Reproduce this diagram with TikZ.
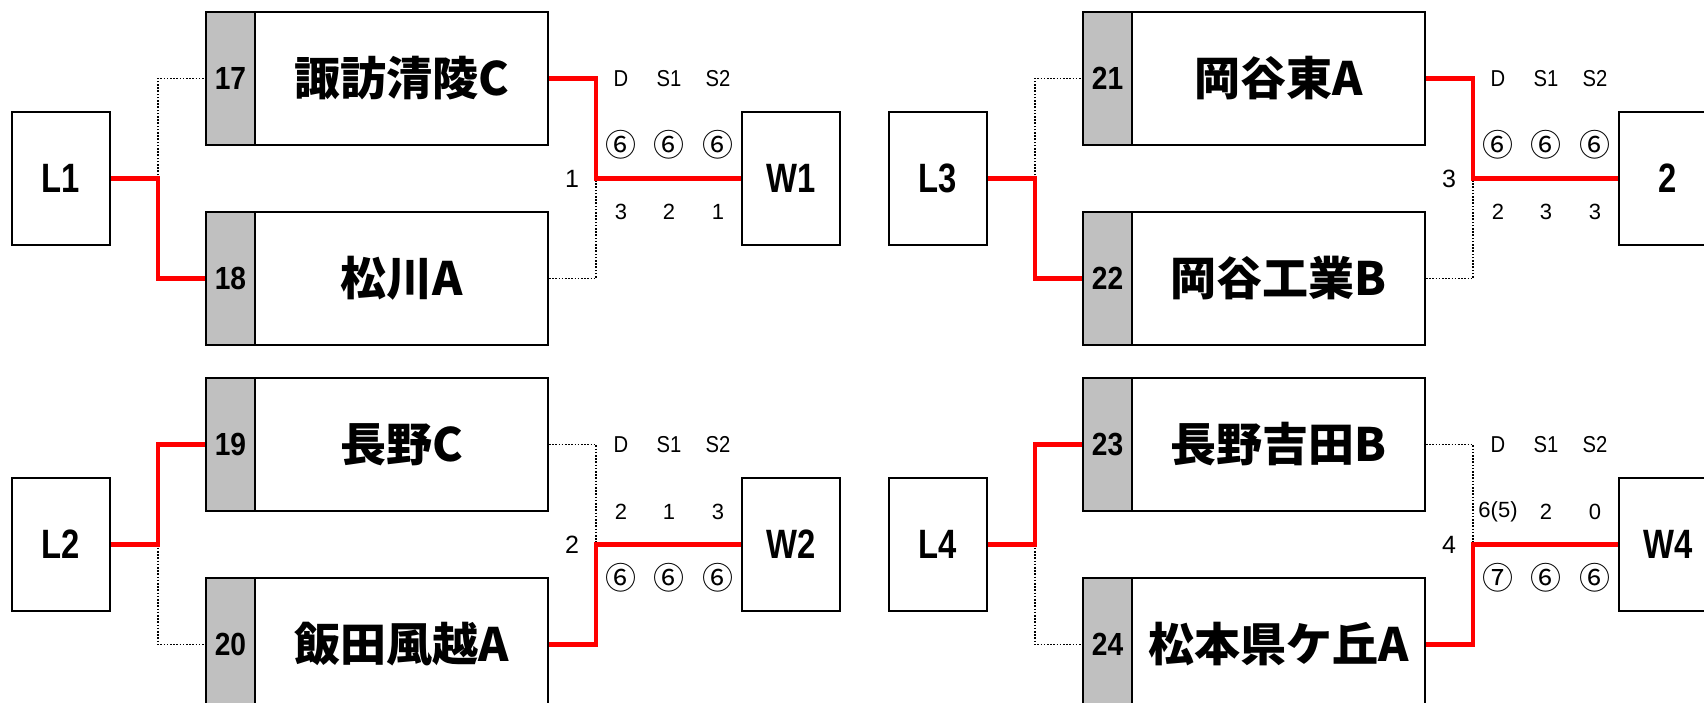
\documentclass[tikz,border=0pt]{standalone}
\usepackage{fontspec}
\setmainfont{Liberation Sans}
\newfontfamily\jp{Noto Sans CJK JP}
\newfontfamily\narrowf[FakeStretch=0.8]{Liberation Sans}
\newfontfamily\numf[FakeStretch=0.88]{Liberation Sans}
\definecolor{boxgray}{RGB}{192,192,192}
\definecolor{wred}{RGB}{255,0,0}
\tikzset{
  lbox/.style={draw=black, line width=1.8pt, fill=white, minimum width=98pt, minimum height=133pt, inner sep=0pt, font=\narrowf\bfseries\fontsize{41}{41}\selectfont},
  seedbox/.style={draw=black, line width=1.8pt, fill=boxgray, minimum width=49pt, minimum height=133pt, inner sep=0pt, font=\numf\bfseries\fontsize{32}{32}\selectfont},
  teambox/.style={draw=black, line width=1.8pt, fill=white, minimum width=293pt, minimum height=133pt, inner sep=0pt, font=\jp\bfseries\fontsize{46}{46}\selectfont},
  win/.style={draw=wred, line width=4.5pt},
  lose/.style={draw=black, line width=1.6pt, dash pattern=on 1.6pt off 1.6pt},
  hdr/.style={inner sep=0pt, font=\numf\fontsize{23}{23}\selectfont},
  sc/.style={inner sep=0pt, font=\fontsize{22}{22}\selectfont},
  circ/.style={inner sep=0pt, font=\jp\fontsize{31}{31}\selectfont},
  mno/.style={inner sep=0pt, font=\fontsize{25}{25}\selectfont}
}
\begin{document}
\begin{tikzpicture}[x=1pt,y=-1pt]
\useasboundingbox (0,0) rectangle (1704,703);
\fill[white] (0,0) rectangle (1704,703);

% ---------- group 1 (top left) ----------
\begin{scope}
\node[lbox] (L1) at (61,178.5) {L1};
\node[seedbox] (s17) at (230.5,78.5) {17};
\node[teambox] (t17) at (401.5,78.5) {諏訪清陵C};
\node[seedbox] (s18) at (230.5,278.5) {18};
\node[teambox] (t18) at (401.5,278.5) {松川A};
\node[lbox] (W1) at (791,178.5) {W1};
\coordinate (jl1) at (158,178.5);
\coordinate (jr1) at (596,178.5);
\draw[lose] (jl1) |- (s17.west);
\draw[lose] (t18.east) -| (jr1);
\draw[win] (L1.east) -- (jl1) |- (s18.west);
\draw[win] (t17.east) -| (jr1) -- (W1.west);
\node[hdr] (h1d) at (621,78.5) {D};
\node[hdr] (h1s1) at (669,78.5) {S1};
\node[hdr] (h1s2) at (718,78.5) {S2};
\node[circ] (a1d) at (621,145) {⑥};
\node[circ] (a1s1) at (669,145) {⑥};
\node[circ] (a1s2) at (718,145) {⑥};
\node[sc] (b1d) at (621,212) {3};
\node[sc] (b1s1) at (669,212) {2};
\node[sc] (b1s2) at (718,212) {1};
\node[mno] (m1) at (572,178.5) {1};
\end{scope}

% ---------- group 2 (bottom left) ----------
\begin{scope}[shift={(0,366)}]
\node[lbox] (L2) at (61,178.5) {L2};
\node[seedbox] (s19) at (230.5,78.5) {19};
\node[teambox] (t19) at (401.5,78.5) {長野C};
\node[seedbox] (s20) at (230.5,278.5) {20};
\node[teambox] (t20) at (401.5,278.5) {飯田風越A};
\node[lbox] (W2) at (791,178.5) {W2};
\coordinate (jl2) at (158,178.5);
\coordinate (jr2) at (596,178.5);
\draw[lose] (jl2) |- (s20.west);
\draw[lose] (t19.east) -| (jr2);
\draw[win] (L2.east) -- (jl2) |- (s19.west);
\draw[win] (t20.east) -| (jr2) -- (W2.west);
\node[hdr] (h2d) at (621,78.5) {D};
\node[hdr] (h2s1) at (669,78.5) {S1};
\node[hdr] (h2s2) at (718,78.5) {S2};
\node[sc] (a2d) at (621,146) {2};
\node[sc] (a2s1) at (669,146) {1};
\node[sc] (a2s2) at (718,146) {3};
\node[circ] (b2d) at (621,212) {⑥};
\node[circ] (b2s1) at (669,212) {⑥};
\node[circ] (b2s2) at (718,212) {⑥};
\node[mno] (m2) at (572,178.5) {2};
\end{scope}

% ---------- group 3 (top right) ----------
\begin{scope}[shift={(877,0)}]
\node[lbox] (L3) at (61,178.5) {L3};
\node[seedbox] (s21) at (230.5,78.5) {21};
\node[teambox] (t21) at (401.5,78.5) {岡谷東A};
\node[seedbox] (s22) at (230.5,278.5) {22};
\node[teambox] (t22) at (401.5,278.5) {岡谷工業B};
\node[lbox] (W3) at (791,178.5) {2};
\coordinate (jl3) at (158,178.5);
\coordinate (jr3) at (596,178.5);
\draw[lose] (jl3) |- (s21.west);
\draw[lose] (t22.east) -| (jr3);
\draw[win] (L3.east) -- (jl3) |- (s22.west);
\draw[win] (t21.east) -| (jr3) -- (W3.west);
\node[hdr] (h3d) at (621,78.5) {D};
\node[hdr] (h3s1) at (669,78.5) {S1};
\node[hdr] (h3s2) at (718,78.5) {S2};
\node[circ] (a3d) at (621,145) {⑥};
\node[circ] (a3s1) at (669,145) {⑥};
\node[circ] (a3s2) at (718,145) {⑥};
\node[sc] (b3d) at (621,212) {2};
\node[sc] (b3s1) at (669,212) {3};
\node[sc] (b3s2) at (718,212) {3};
\node[mno] (m3) at (572,178.5) {3};
\end{scope}

% ---------- group 4 (bottom right) ----------
\begin{scope}[shift={(877,366)}]
\node[lbox] (L4) at (61,178.5) {L4};
\node[seedbox] (s23) at (230.5,78.5) {23};
\node[teambox] (t23) at (401.5,78.5) {長野吉田B};
\node[seedbox] (s24) at (230.5,278.5) {24};
\node[teambox] (t24) at (401.5,278.5) {松本県ケ丘A};
\node[lbox] (W4) at (791,178.5) {W4};
\coordinate (jl4) at (158,178.5);
\coordinate (jr4) at (596,178.5);
\draw[lose] (jl4) |- (s24.west);
\draw[lose] (t23.east) -| (jr4);
\draw[win] (L4.east) -- (jl4) |- (s23.west);
\draw[win] (t24.east) -| (jr4) -- (W4.west);
\node[hdr] (h4d) at (621,78.5) {D};
\node[hdr] (h4s1) at (669,78.5) {S1};
\node[hdr] (h4s2) at (718,78.5) {S2};
\node[sc] (a4d) at (621,146) {6(5)};
\node[sc] (a4s1) at (669,146) {2};
\node[sc] (a4s2) at (718,146) {0};
\node[circ] (b4d) at (621,212) {⑦};
\node[circ] (b4s1) at (669,212) {⑥};
\node[circ] (b4s2) at (718,212) {⑥};
\node[mno] (m4) at (572,178.5) {4};
\end{scope}
\end{tikzpicture}
\end{document}
